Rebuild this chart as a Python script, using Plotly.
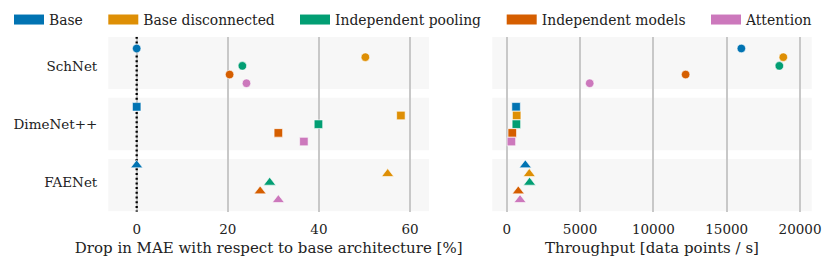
import plotly.graph_objects as go

# ---- data ----
models = ["SchNet", "DimeNet++", "FAENet"]
variants = ["Base", "Base disconnected", "Independent pooling", "Independent models", "Attention"]

# Drop in MAE w.r.t. base architecture [%] (per model: SchNet, DimeNet++, FAENet)
mae_base = [0.0, 0.0, 0.0]
mae_base_disconnected = [50.2, 58.0, 55.1]
mae_independent_pooling = [23.2, 39.9, 29.2]
mae_independent_models = [20.4, 31.1, 27.1]
mae_attention = [24.1, 36.7, 31.1]

# Throughput [data points / s]
tp_base = [16000, 640, 1270]
tp_base_disconnected = [18860, 680, 1540]
tp_independent_pooling = [18590, 660, 1560]
tp_independent_models = [12200, 380, 790]
tp_attention = [5660, 320, 910]

left_ticks = [0, 20, 40, 60]
right_ticks = [0, 5000, 10000, 15000, 20000]
right_ticktext = ["0", "5000", "10000", "15000", "20000"]

# ---- style ----
colors = ["#0173b2", "#de8f05", "#029e73", "#d55e00", "#cc78bc"]
symbols = ["circle", "square", "triangle-up"]
sizes = [8.5, 8.5, 10.5]
FONT = "DejaVu Serif"
FS_TICK = 13.5
FS_TITLE = 15
FS_LEG = 13.9
TXT = "#222222"

mae = [mae_base, mae_base_disconnected, mae_independent_pooling, mae_independent_models, mae_attention]
tp = [tp_base, tp_base_disconnected, tp_independent_pooling, tp_independent_models, tp_attention]

W, H = 831, 266
def px_x(p):
    return p / W
def px_y(p):
    return 1 - p / H

dom_left = [px_x(108.3), px_x(429.0)]
dom_right = [px_x(492.3), px_x(811.7)]
dom_y = [px_y(211.7), px_y(36.7)]

dodge = 0.149
fig = go.Figure()

# dotted zero line in left panel
fig.add_trace(go.Scatter(x=[0, 0], y=[-0.5, 2.5], mode="lines",
                         line=dict(color="black", width=2.3, dash="2px,2.7px"),
                         showlegend=False, hoverinfo="skip", xaxis="x", yaxis="y"))

for j, name in enumerate(variants):
    ys = [i + (j - 2) * dodge for i in range(len(models))]
    for vals, xa in ((mae[j], "x"), (tp[j], "x2")):
        fig.add_trace(go.Scatter(
            x=vals, y=ys, mode="markers", showlegend=False, name=name,
            marker=dict(color=colors[j], symbol=symbols, size=sizes, opacity=1,
                        line=dict(color="white", width=0.6)),
            xaxis=xa, yaxis="y" if xa == "x" else "y2"))

# legend entries (rectangular patches)
legend_x = [14, 108.3, 300, 506.7, 711]
for j, name in enumerate(variants):
    lname = "legend" if j == 0 else f"legend{j+1}"
    fig.add_trace(go.Scatter(x=[None], y=[None], mode="lines", name=name,
                             line=dict(color=colors[j], width=10),
                             legend=lname, xaxis="x", yaxis="y"))
    fig.update_layout(**{lname: dict(x=px_x(legend_x[j] - 5), y=px_y(20), xanchor="left",
                                     yanchor="middle", orientation="h",
                                     bgcolor="rgba(0,0,0,0)", borderwidth=0,
                                     font=dict(family=FONT, size=FS_LEG, color=TXT),
                                     itemwidth=30, tracegroupgap=0)})

# background bands
for i in range(len(models)):
    top = -0.5 + i * 1.0485
    for xr in ("x", "x2"):
        fig.add_shape(type="rect", xref=f"{xr} domain", yref="y",
                      x0=0, x1=1, y0=top, y1=top + 0.897,
                      fillcolor="#f7f7f7", line_width=0, layer="below")

axis_common = dict(showgrid=True, gridcolor="#c8c8c8", gridwidth=1.5, zeroline=False,
                   showline=False, ticks="", automargin=False,
                   tickfont=dict(family=FONT, size=FS_TICK, color=TXT),
                   title_font=dict(family=FONT, size=FS_TITLE, color=TXT), title_standoff=6)

fig.update_layout(
    width=W, height=H, margin=dict(l=0, r=0, t=0, b=0, autoexpand=False),
    paper_bgcolor="white", plot_bgcolor="rgba(0,0,0,0)",
    font=dict(family=FONT, size=FS_TICK, color=TXT),
    xaxis=dict(domain=dom_left, range=[-6.23, 64.17], tickvals=left_ticks,
               title_text="Drop in MAE with respect to base architecture [%]",
               anchor="y", ticklabelstandoff=8, **axis_common),
    xaxis2=dict(domain=dom_right, range=[-982, 20797], tickvals=right_ticks,
                ticktext=right_ticktext, ticklabelstandoff=8,
                title_text="Throughput [data points / s]", anchor="y2", **axis_common),
    yaxis=dict(domain=dom_y, range=[2.5, -0.5], tickvals=[0, 1, 2], ticktext=models,
               showgrid=False, zeroline=False, showline=False, ticks="", automargin=False,
               ticklabelstandoff=10, anchor="x",
               tickfont=dict(family=FONT, size=FS_TICK, color=TXT)),
    yaxis2=dict(domain=dom_y, range=[2.5, -0.5], matches="y", showticklabels=False,
                showgrid=False, zeroline=False, showline=False, ticks="", automargin=False,
                anchor="x2"),
)

fig.write_html("out.html", config={"displayModeBar": False},
               post_script="document.body.style.margin='0px';")
